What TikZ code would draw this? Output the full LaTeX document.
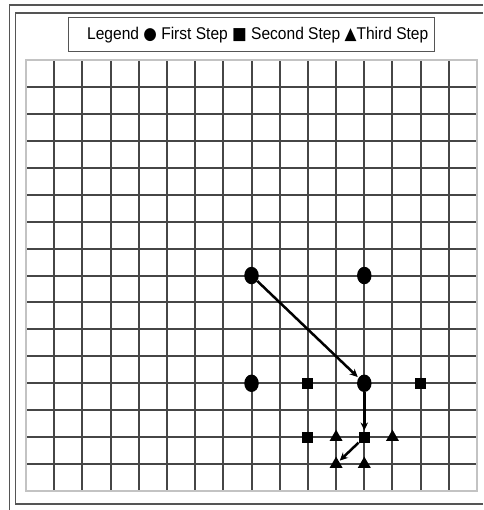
\documentclass[tikz,border=0pt]{standalone}
\usepackage{fontspec}
\setmainfont{Liberation Sans}
\newfontfamily\legendfont{Liberation Sans}[FakeStretch=0.915]
\newfontfamily\symfont{DejaVu Sans}[FakeStretch=0.915]
\usetikzlibrary{shapes.geometric, arrows.meta, positioning}
\definecolor{framegray}{RGB}{85,85,85}
\definecolor{gridgray}{RGB}{70,70,70}
\definecolor{edgegray}{RGB}{195,195,195}
\tikzset{
    firststep/.style={ellipse, fill=black, inner sep=0pt, minimum width=14.5pt, minimum height=17.5pt},
    secondstep/.style={rectangle, fill=black, inner sep=0pt, minimum size=11pt},
    thirdstep/.style={regular polygon, regular polygon sides=3, fill=black, inner sep=0pt, minimum size=15pt},
    steparrow/.style={-{Stealth[length=8pt, width=7.5pt]}, line width=2.5pt, black, shorten >=1pt},
    gridline/.style={gridgray, line width=1.5pt},
    legendbox/.style={rectangle, draw=framegray, line width=1pt, minimum width=366pt, minimum height=34pt, inner sep=0pt},
    legendtext/.style={font=\legendfont\fontsize{17}{19}\selectfont, inner sep=0pt}
}

\begin{document}
\begin{tikzpicture}[x=1pt, y=-1pt]
\useasboundingbox (0,0) rectangle (483,510);

% frames
\draw[framegray, line width=1.5pt] (9.5,510) -- (9.5,5) -- (483,5);
\draw[framegray, line width=1.5pt] (483,13) -- (15.5,13) -- (15.5,504) -- (483,504);

% legend
\node[legendbox] (legend) at (251,35) {};
\node[legendtext, anchor=east] (legendlabel) at ([xshift=-6pt]legend.east)
    {Legend {\symfont ●} First Step {\symfont ■} Second Step {\symfont ▲}Third Step};

% grid, lines snapped to whole pixels
\foreach \c [evaluate=\c as \xc using {round(26+28.19*\c)}] in {1,...,15}
    \draw[gridline] (\xc,60) -- (\xc,491);
\foreach \r [evaluate=\r as \yr using {round(60+26.94*\r)}] in {1,...,15}
    \draw[gridline] (26,\yr) -- (477,\yr);
\draw[edgegray, line width=1.5pt] (26,60) rectangle (477,491);

\begin{scope}[shift={(26pt,-60pt)}, x=28.19pt, y=-26.94pt]
% markers
\node[firststep] (c1) at (8,8) {};
\node[firststep] (c2) at (12,8) {};
\node[firststep] (c3) at (8,12) {};
\node[firststep] (c4) at (12,12) {};
\node[secondstep] (s1) at (10,12) {};
\node[secondstep] (s2) at (14,12) {};
\node[secondstep] (s3) at (10,14) {};
\node[secondstep] (s4) at (12,14) {};
\node[thirdstep] (t1) at (11,14) {};
\node[thirdstep] (t2) at (13,14) {};
\node[thirdstep] (t3) at (11,15) {};
\node[thirdstep] (t4) at (12,15) {};

% moves
\draw[steparrow] (c1) -- (c4);
\draw[steparrow] (c4) -- (s4);
\draw[steparrow] (s4) -- (t3);
\end{scope}

\end{tikzpicture}
\end{document}
